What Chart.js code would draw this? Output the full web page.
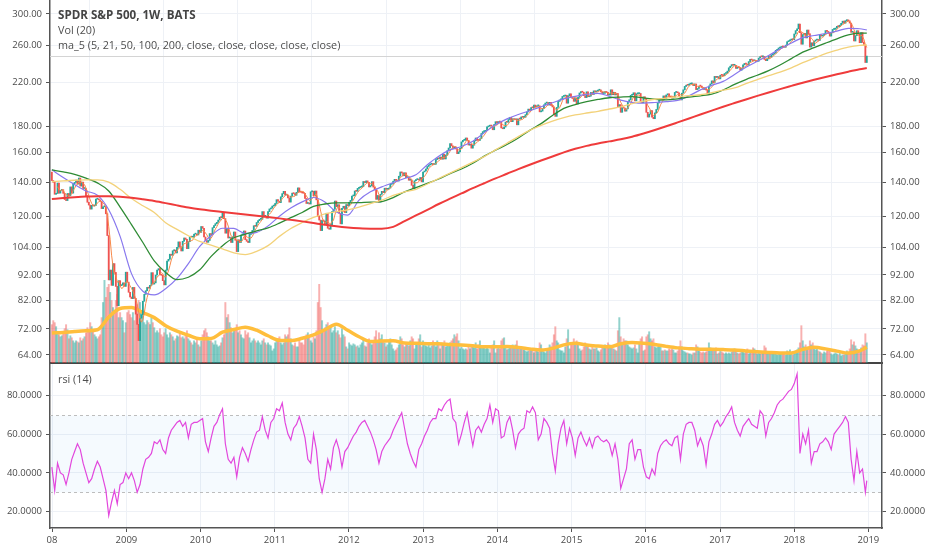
<!DOCTYPE html>
<html>
<head>
<meta charset="utf-8">
<title>SPDR S&amp;P 500, 1W, BATS</title>
<script src="https://cdn.jsdelivr.net/npm/chart.js@4.4.0/dist/chart.umd.min.js"></script>
<style>
  body { margin: 0; background: #fff; }
  #wrap { position: relative; width: 932px; height: 550px; overflow: hidden; font-family: "Open Sans", sans-serif; }
  canvas { position: absolute; left: 0; }
  #top { top: 0; }
  #bot { top: 364px; }
  .lbl { position: absolute; left: 58px; font-size: 10.8px; color: #4d4d4d; white-space: nowrap; line-height: 14px; }
</style>
</head>
<body>
<div id="wrap">
  <canvas id="top" width="932" height="364"></canvas>
  <canvas id="bot" width="932" height="186"></canvas>
  <div class="lbl" style="top:8px;font-weight:bold;font-size:11.6px;color:#444">SPDR S&amp;P 500, 1W, BATS</div>
  <div class="lbl" style="top:23px">Vol (20)</div>
  <div class="lbl" style="top:38px">ma_5 (5, 21, 50, 100, 200, close, close, close, close, close)</div>
  <div class="lbl" style="top:372px">rsi (14)</div>
</div>
<script>
// weekly closes, one per week from the week of 31 Dec 2007 to the week of 24 Dec 2018
const firstOpen = 146.5;
const closes = [
  // 2008
  141.0,139.9,132.5,133.0,139.4,133.2,134.9,135.3,133.1,129.4,128.8,133.0,131.6,137.0,133.2,139.0,139.8,141.3,138.8,142.6,
  137.5,140.0,136.0,136.0,131.7,127.8,126.2,123.9,126.0,125.7,126.0,129.6,129.8,129.2,128.3,124.2,125.2,125.5,121.3,109.9,
  89.9,94.0,87.7,96.8,93.0,87.3,80.0,89.6,87.6,87.9,88.7,87.3,
  // 2009
  93.1,89.0,85.0,83.2,82.6,86.9,82.7,77.0,73.5,68.3,75.6,76.8,81.6,84.2,85.6,86.9,86.6,87.7,92.9,88.2,88.7,91.9,
  94.0,94.6,92.1,91.8,89.6,87.9,94.0,97.9,98.7,101.0,100.5,102.6,102.9,101.6,104.2,106.8,104.4,102.5,107.1,108.7,108.0,103.6,
  106.9,109.3,109.1,109.1,110.6,110.6,110.2,112.6,111.5,
  // 2010
  114.5,113.6,109.2,107.4,106.6,107.5,110.9,110.4,113.9,115.0,116.0,116.7,117.9,119.4,119.2,121.7,118.7,111.1,113.6,108.7,108.9,
  106.5,109.2,111.7,107.6,102.2,107.8,106.5,110.2,110.2,112.2,107.9,107.1,106.5,110.5,111.0,112.5,114.9,114.6,116.6,117.6,118.3,118.3,
  122.5,119.9,119.9,118.9,122.5,124.0,124.4,125.6,125.8,
  // 2011
  127.1,129.3,128.4,127.6,131.0,132.9,134.3,132.0,132.1,130.4,127.9,131.4,133.2,132.9,131.9,133.7,136.4,134.0,133.8,133.3,133.1,
  130.0,127.1,127.1,126.8,134.0,134.4,131.6,134.5,129.2,119.9,117.9,112.4,117.7,117.4,115.4,121.6,113.6,113.1,115.5,122.5,123.8,128.5,
  125.3,126.4,121.6,115.9,124.4,125.5,121.9,126.5,125.8,
  // 2012
  127.8,128.9,131.5,131.6,134.5,134.3,136.1,136.6,137.0,137.1,140.4,139.7,140.8,139.8,137.0,137.8,140.3,136.9,135.3,129.5,131.8,
  127.8,132.5,134.3,133.5,136.2,135.5,135.7,136.3,138.6,139.1,140.6,141.8,141.1,140.7,143.8,146.6,146.0,144.1,146.1,142.9,143.3,141.2,
  141.4,138.0,135.9,140.9,141.6,141.8,141.3,143.0,140.2,
  // 2013
  146.6,147.2,148.6,150.3,151.3,151.8,152.0,151.6,151.8,155.1,156.1,155.6,156.9,155.3,158.8,155.5,158.2,161.4,163.4,166.7,165.0,163.1,
  164.3,162.7,159.3,160.6,163.2,168.0,169.2,169.2,171.0,169.1,165.6,166.4,163.3,165.5,168.8,171.0,169.2,169.1,170.4,174.5,176.0,
  176.2,177.0,179.8,180.4,180.6,180.5,177.5,181.8,184.1,
  // 2014
  183.1,184.2,183.8,179.0,178.3,179.7,183.8,183.6,185.9,187.8,184.1,186.6,185.7,186.5,181.5,186.4,186.3,188.1,187.8,187.8,190.0,192.4,
  194.9,193.6,196.3,196.1,198.5,196.8,197.8,197.8,192.5,193.1,195.5,198.8,200.3,200.8,198.5,201.0,198.2,196.8,190.6,188.6,196.4,201.8,
  203.2,203.9,206.4,206.8,207.5,200.2,207.1,208.9,
  // 2015
  205.8,204.5,201.9,205.1,199.5,205.5,209.7,211.0,210.4,207.1,205.3,210.8,206.1,206.7,210.2,208.1,211.7,210.8,211.6,212.3,212.6,210.7,
  209.2,209.4,211.0,210.2,207.7,207.7,212.7,208.0,210.4,207.8,209.2,197.1,198.9,192.1,196.1,195.8,193.1,195.1,201.5,203.3,207.5,207.9,
  209.9,202.3,208.9,209.0,209.2,201.2,200.6,206.1,204.4,
  // 2016
  192.1,188.0,190.5,193.7,188.0,186.6,191.6,194.6,200.4,202.8,204.4,203.1,206.9,204.5,207.8,208.9,206.3,205.7,204.8,205.5,210.2,
  210.3,209.8,206.5,203.2,209.5,212.7,216.0,217.2,217.1,218.2,218.5,218.5,216.8,218.4,212.9,214.0,216.4,216.3,215.0,213.1,213.9,212.5,
  208.6,216.4,218.5,221.5,219.7,226.0,225.0,225.7,223.5,
  // 2017
  227.2,227.1,226.7,229.0,229.3,231.5,235.0,236.7,238.4,237.7,237.7,234.3,235.7,235.2,232.5,234.6,238.1,239.7,239.0,238.0,241.7,
  244.2,243.4,242.6,243.1,241.8,242.1,245.6,247.1,247.0,247.4,244.1,242.7,244.6,247.8,246.6,249.2,250.1,251.2,254.4,255.0,257.1,257.7,
  258.7,258.3,257.9,260.4,264.5,265.5,266.5,267.5,266.9,
  // 2018
  273.9,278.1,280.4,286.6,275.5,261.5,273.1,274.7,269.1,278.9,274.2,258.1,263.2,259.7,265.2,266.6,266.6,266.0,272.9,271.3,272.2,
  273.6,278.2,277.1,274.7,271.3,275.4,279.6,279.7,281.4,283.6,283.2,285.1,287.5,290.3,287.6,290.9,291.9,290.7,287.8,276.0,276.3,265.3,
  271.9,278.0,273.7,263.3,275.7,263.6,260.5,240.7,247.8
];

// weekly volume (millions of shares), same weeks as closes
const volumes = [
  // 2008
  38,42,40,36,30,28,26,27,30,34,38,33,24,27,25,22,20,22,21,20,25,22,24,26,30,35,33,40,36,32,28,26,24,26,28,
  45,60,82,65,75,78,70,62,55,52,62,68,45,50,45,42,30,
  // 2009
  40,50,52,48,45,50,42,55,58,62,60,52,48,40,38,42,40,38,45,40,35,30,32,30,34,28,26,30,34,28,25,30,28,26,22,24,27,26,30,25,
  26,24,27,32,24,22,20,18,22,20,24,18,16,
  // 2010
  22,28,32,34,30,26,22,22,20,18,22,18,16,17,20,25,28,60,45,48,40,35,30,32,34,38,30,32,28,25,24,32,28,30,25,20,22,24,
  22,20,22,20,18,22,24,20,18,20,18,17,12,14,
  // 2011
  20,22,24,26,20,18,20,28,26,28,35,24,18,17,20,16,16,22,20,20,18,26,28,30,25,22,20,26,24,32,60,78,55,42,32,35,38,40,36,
  35,30,32,36,30,32,28,25,34,28,26,16,14,
  // 2012
  20,18,17,19,18,16,17,15,18,20,24,17,16,20,24,22,18,22,26,32,22,30,24,28,22,20,16,18,22,24,18,14,12,13,15,18,26,24,18,
  16,20,18,17,22,26,24,14,18,20,24,28,16,
  // 2013
  22,18,17,16,18,15,17,22,18,16,22,18,14,20,18,22,16,17,18,20,22,24,28,26,29,22,14,16,14,13,14,13,18,14,16,16,15,20,14,
  18,22,16,15,15,14,16,14,10,16,18,22,10,
  // 2014
  14,15,14,22,24,25,16,13,14,15,17,18,16,18,22,15,14,16,14,13,12,11,12,13,14,12,10,13,12,11,20,18,13,11,10,12,14,18,16,
  20,28,36,22,20,13,12,12,10,16,24,33,14,
  // 2015
  18,20,24,20,22,18,14,12,13,16,20,18,16,14,13,16,14,14,15,12,11,13,15,16,18,17,20,18,16,15,14,13,12,32,45,26,20,24,22,
  22,18,16,15,14,15,18,14,10,20,24,26,12,13,
  // 2016
  26,28,31,24,22,24,16,15,16,17,18,12,12,13,12,12,14,13,14,13,10,10,12,16,22,16,12,11,10,10,9,9,8,10,10,18,16,12,11,
  10,11,10,11,14,20,15,12,13,14,15,9,10,
  // 2017
  12,11,10,9,10,9,10,9,11,12,14,13,10,9,10,12,11,10,12,14,9,10,12,15,14,12,9,10,9,10,11,17,15,10,9,10,11,10,9,
  9,8,9,10,9,10,9,8,12,11,13,10,8,
  // 2018
  11,12,13,15,20,37,22,16,18,15,16,22,18,20,14,13,14,12,11,10,9,11,10,12,14,13,9,8,9,10,9,8,10,7,8,8,9,12,10,
  14,23,18,21,17,14,13,12,15,18,17,29,20
];

// moving averages, one value every 8 weeks (last one on the final week)
const maStep = 8;
const ma21 = [
  148.0,143.0,138.5,134.5,132.0,123.5,109.5,92.5,85.4,84.0,
  86.4,90.5,96.8,104.6,109.8,113.6,113.5,111.0,111.5,114.8,
  120.0,124.5,128.0,130.6,128.0,122.3,120.6,129.0,134.0,137.0,
  139.7,142.3,144.7,151.5,157.5,162.0,164.5,168.5,175.0,181.5,
  186.5,190.2,193.5,197.0,200.6,204.2,206.5,208.3,209.3,206.5,
  203.0,201.0,200.2,200.8,201.7,202.8,207.0,212.6,217.0,221.0,
  228.0,235.5,242.0,248.5,256.0,263.0,269.5,272.0,274.5,277.5,
  281.0,280.5,279.0
];
const ma50 = [
  148.0,146.6,145.0,142.5,139.5,134.5,125.0,115.5,106.5,98.0,
  93.0,90.0,91.0,94.1,100.0,105.0,108.8,110.6,112.2,113.8,
  116.3,119.2,122.0,125.5,126.8,127.4,127.4,127.6,127.9,128.2,
  130.5,134.0,136.6,139.2,142.0,145.5,148.6,152.5,157.5,161.8,
  166.0,171.0,177.0,182.5,189.3,195.5,199.0,201.6,203.6,205.2,
  205.8,206.2,205.0,203.8,203.2,204.2,205.8,207.0,208.5,212.5,
  218.0,222.8,227.2,232.0,238.0,245.0,252.3,257.5,262.8,268.0,
  272.8,274.9,275.0
];
const ma100 = [
  140.3,140.8,141.2,141.4,141.5,140.0,135.5,130.0,125.8,122.0,
  116.5,113.0,109.8,107.0,105.3,103.5,101.6,100.8,102.3,105.0,
  109.5,113.5,116.6,119.3,121.3,122.5,123.5,125.0,127.0,129.0,
  131.8,134.0,135.5,138.8,142.3,145.8,149.5,153.3,157.2,162.0,
  167.0,172.1,177.0,181.0,184.5,187.5,189.8,191.5,193.0,195.0,
  196.8,199.8,202.0,203.8,204.8,206.0,207.2,208.0,210.0,212.5,
  214.5,218.8,222.8,226.8,230.5,235.0,240.5,245.5,250.5,254.5,
  258.0,260.2,260.7
];
const ma200 = [
  129.7,130.3,130.8,131.2,131.4,131.3,131.0,130.4,129.5,128.5,
  127.3,126.0,124.8,123.8,123.0,122.3,121.6,120.9,120.2,119.5,
  118.8,118.0,117.2,116.3,115.4,114.6,114.0,113.6,113.4,113.4,
  114.3,117.3,120.4,123.5,126.8,129.9,133.0,136.2,139.3,142.4,
  145.4,148.5,151.5,154.4,157.2,160.2,162.8,165.0,166.8,168.4,
  170.0,172.0,174.5,177.3,180.3,183.5,186.8,190.2,193.6,197.0,
  200.3,203.6,206.9,210.2,213.4,216.5,219.6,222.6,225.5,228.3,
  230.9,233.4,234.8
];
const volMa20 = [
  29.7,30.3,31.3,32.0,33.0,45.5,54.0,55.0,50.0,45.0,
  37.0,31.5,27.5,24.0,24.3,30.5,33.2,35.5,32.5,27.0,
  22.5,22.2,24.5,28.0,33.0,38.5,32.5,26.0,21.3,21.8,
  22.0,19.8,19.5,19.2,19.0,18.4,17.8,17.0,16.0,16.0,
  16.3,15.5,14.0,12.8,14.5,18.0,19.5,17.8,16.8,16.0,
  19.0,20.3,19.5,18.3,16.5,15.0,14.2,13.7,13.7,13.3,
  12.8,12.0,11.2,10.5,10.0,10.0,13.5,15.5,14.0,11.8,
  9.8,12.0,15.7
];

const rsiStep = 2;
const rsi14 = [
  43,31,45,40,39,34,40,47,51,55, 52,45,40,35,37,42,46,43,37,31,
  18,25,31,24,34,35,40,37,40,36, 30,34,42,47,48,50,56,55,57,52,
  50,58,62,64,66,67,64,66,58,65, 66,66,67,68,56,51,58,64,66,70,
  73,55,47,45,48,38,48,53,50,46, 52,57,61,62,69,62,58,66,68,73,
  72,76,66,60,57,63,65,69,64,58, 47,45,60,52,37,30,37,47,42,53,
  57,52,43,51,53,56,59,61,64,66, 67,64,61,57,52,45,51,54,56,58,
  62,65,68,71,63,55,50,46,43,52, 55,59,62,66,68,68,73,72,75,77,
  78,68,66,55,60,66,71,62,54,62, 64,61,65,68,75,66,73,72,58,59,
  66,69,62,53,60,62,63,72,71,74, 71,57,60,68,66,63,50,41,55,63,
  67,55,63,58,49,58,61,57,54,58, 53,58,59,57,56,57,55,49,55,47,
  32,37,42,55,57,47,52,52,43,38, 37,42,39,50,54,56,57,55,54,58,
  59,47,60,65,66,66,62,54,58,54, 44,56,60,65,67,64,66,69,71,74,
  66,62,59,64,66,68,65,64,63,72, 70,59,66,68,71,75,77,78,80,82,
  83,86,91,50,60,55,62,45,51,51, 55,56,58,56,52,60,62,64,66,69,
  66,47,36,51,40,42,30,36
];

const priceTicks = [64, 72, 82, 92, 104, 120, 140, 160, 180, 220, 260, 300];
const rsiTicks = [20, 40, 60, 80];
const rsiUpper = 70, rsiLower = 30;
const years = [2008, 2009, 2010, 2011, 2012, 2013, 2014, 2015, 2016, 2017, 2018, 2019];
const yearLabels = ['08', '2009', '2010', '2011', '2012', '2013', '2014', '2015', '2016', '2017', '2018', '2019'];

const UP = '#26a69a', DOWN = '#ef5350';
const UP_VOL = 'rgba(38,166,154,0.5)', DOWN_VOL = 'rgba(239,83,80,0.45)';
const GRID = '#eef1f6', AXIS = '#555';

Chart.defaults.font.family = "'Open Sans', sans-serif";
Chart.defaults.font.size = 9.5;
Chart.defaults.color = '#4a4a4a';

const last = closes.length - 1;
const weekOf = t => (t - Date.UTC(2007, 11, 31)) / (7 * 864e5);
const yearTicks = years.map(y => weekOf(Date.UTC(y, 0, 1)));
const xMin = -1.3, xMax = 583.7;

const opens = closes.map((c, i) => i ? closes[i - 1] : firstOpen);
const rising = closes.map((c, i) => c >= opens[i]);
const sampled = (arr, step) => arr.map((v, k) => ({ x: Math.min(k * step, last), y: v }));
const ma5 = [];
for (let i = 4; i <= last; i++) {
  ma5.push({ x: i, y: (closes[i] + closes[i-1] + closes[i-2] + closes[i-3] + closes[i-4]) / 5 });
}

function fixWidth(w) { return s => { s.width = w; s.paddingTop = 0; s.paddingBottom = 0; }; }
function fixHeight(h) { return s => { s.height = h; s.paddingLeft = 0; s.paddingRight = 0; }; }

function valueAxis(pos, extra) {
  return Object.assign({
    position: pos,
    afterFit: fixWidth(50),
    grid: { color: GRID, drawOnChartArea: pos === 'left', tickLength: 4, tickColor: AXIS },
    border: { color: AXIS, width: 1.5 }
  }, extra);
}
function priceAxis(pos) {
  return valueAxis(pos, {
    type: 'logarithmic', min: 61.7, max: 319.5,
    afterBuildTicks: s => { s.ticks = priceTicks.map(v => ({ value: v })); },
    ticks: { autoSkip: false, padding: 4, callback: v => Number(v).toFixed(2) }
  });
}
function rsiAxis(pos) {
  return valueAxis(pos, {
    type: 'linear', min: 11.6, max: 96.1,
    afterBuildTicks: s => { s.ticks = rsiTicks.map(v => ({ value: v })); },
    ticks: { autoSkip: false, padding: 4, callback: v => Number(v).toFixed(4) }
  });
}

const lastPriceLine = {
  id: 'lastPriceLine',
  beforeDatasetsDraw(chart) {
    const { ctx, chartArea: a } = chart;
    const y = Math.round(chart.scales.y.getPixelForValue(closes[last])) + 0.5;
    ctx.save();
    ctx.strokeStyle = '#d4d4d4';
    ctx.lineWidth = 1;
    ctx.beginPath(); ctx.moveTo(a.left, y); ctx.lineTo(a.right, y); ctx.stroke();
    ctx.restore();
  }
};

const rsiBand = {
  id: 'rsiBand',
  beforeDatasetsDraw(chart) {
    const { ctx, chartArea: a } = chart;
    const s = chart.scales.y;
    const yHi = Math.round(s.getPixelForValue(rsiUpper)) + 0.5;
    const yLo = Math.round(s.getPixelForValue(rsiLower)) + 0.5;
    ctx.save();
    ctx.fillStyle = 'rgba(33,150,243,0.045)';
    ctx.fillRect(a.left, yHi, a.right - a.left, yLo - yHi);
    ctx.strokeStyle = '#bdbdbd';
    ctx.lineWidth = 1;
    ctx.setLineDash([3, 3]);
    [yHi, yLo].forEach(y => { ctx.beginPath(); ctx.moveTo(a.left, y); ctx.lineTo(a.right, y); ctx.stroke(); });
    ctx.restore();
  }
};

const maLine = (data, color, width) => ({
  type: 'line', data: data, yAxisID: 'y', borderColor: color, borderWidth: width,
  pointRadius: 0, cubicInterpolationMode: 'monotone', order: 1
});

new Chart(document.getElementById('top'), {
  type: 'bar',
  data: {
    datasets: [
      maLine(sampled(ma200, maStep), '#ef3b3b', 2),
      maLine(sampled(ma100, maStep), '#f3d27a', 1.3),
      maLine(sampled(ma50, maStep), '#2e8b34', 1.3),
      maLine(sampled(ma21, maStep), '#8878ee', 1.2),
      Object.assign(maLine(ma5, '#f7894a', 1), { cubicInterpolationMode: 'default', order: 2 }),
      {
        type: 'bar', yAxisID: 'y', order: 3, grouped: false,
        data: closes.map((c, i) => ({ x: i, y: [opens[i], c] })),
        backgroundColor: rising.map(u => u ? UP : DOWN),
        borderWidth: 0, barThickness: 1.2, minBarLength: 1
      },
      {
        type: 'line', yAxisID: 'yv', order: 9, data: sampled(volMa20, maStep),
        borderColor: '#ffbe3c', borderWidth: 3.5, pointRadius: 0, cubicInterpolationMode: 'monotone'
      },
      {
        type: 'bar', yAxisID: 'yv', order: 10, grouped: false,
        data: volumes.map((v, i) => ({ x: i, y: v })),
        backgroundColor: rising.map(u => u ? UP_VOL : DOWN_VOL),
        borderWidth: 0, barThickness: 1.3
      }
    ]
  },
  options: {
    responsive: false, animation: false, events: [],
    layout: { padding: 0 },
    plugins: { legend: { display: false }, tooltip: { enabled: false } },
    scales: {
      x: {
        type: 'linear', min: xMin, max: xMax, offset: false,
        afterBuildTicks: s => { s.ticks = yearTicks.map(v => ({ value: v })); },
        afterFit: fixHeight(1),
        ticks: { display: false },
        grid: { color: GRID, drawTicks: false },
        border: { color: '#444', width: 2 }
      },
      y: priceAxis('left'),
      y2: priceAxis('right'),
      yv: { type: 'linear', display: false, min: 0, max: 360 }
    }
  },
  plugins: [lastPriceLine]
});

new Chart(document.getElementById('bot'), {
  type: 'line',
  data: {
    datasets: [{
      data: sampled(rsi14, rsiStep), yAxisID: 'y',
      borderColor: '#e247dd', borderWidth: 1.2, pointRadius: 0, tension: 0
    }]
  },
  options: {
    responsive: false, animation: false, events: [],
    layout: { padding: 0 },
    plugins: { legend: { display: false }, tooltip: { enabled: false } },
    scales: {
      x: {
        type: 'linear', min: xMin, max: xMax, offset: false,
        afterBuildTicks: s => { s.ticks = yearTicks.map(v => ({ value: v })); },
        afterFit: fixHeight(22),
        ticks: { autoSkip: false, maxRotation: 0, padding: 3, callback: (v, i) => yearLabels[i] },
        grid: { color: GRID, tickLength: 4, tickColor: AXIS },
        border: { color: AXIS, width: 1.5 }
      },
      y: rsiAxis('left'),
      y2: rsiAxis('right')
    }
  },
  plugins: [rsiBand]
});
</script>
</body>
</html>
